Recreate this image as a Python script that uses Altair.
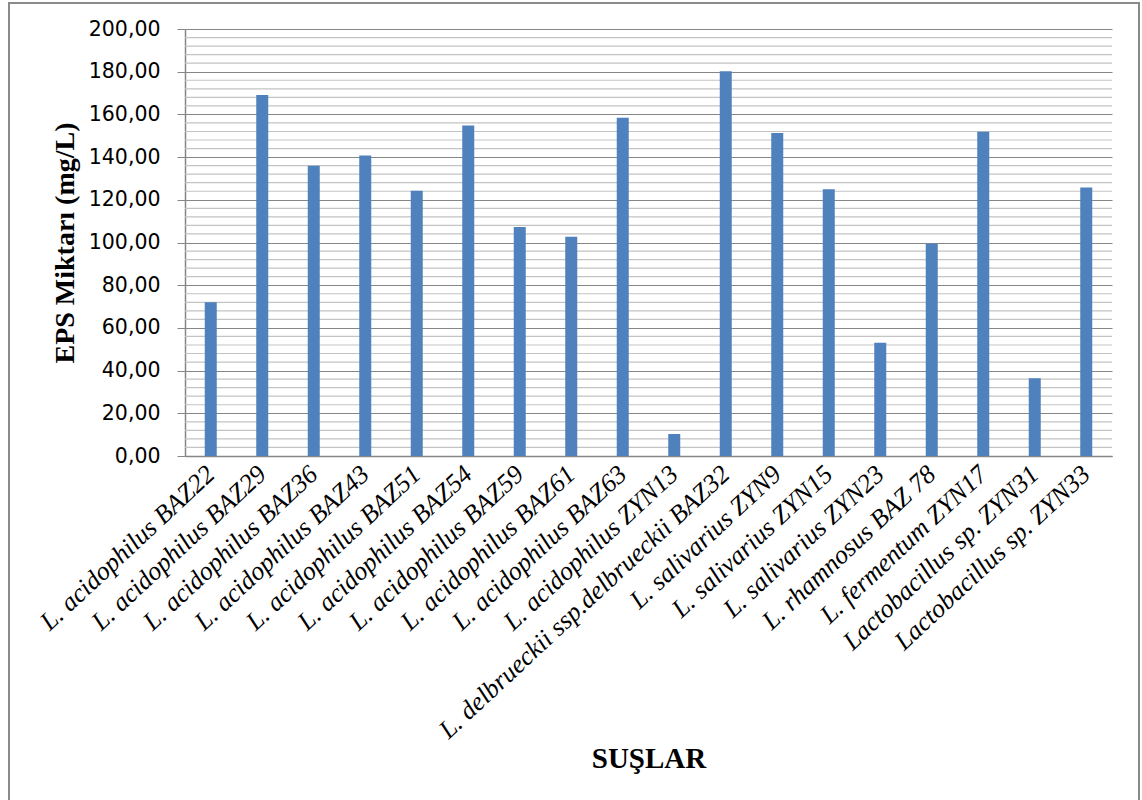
import altair as alt
import pandas as pd

# Strains (x categories) and measured EPS amounts (mg/L)
strains = [
    "L. acidophilus BAZ22",
    "L. acidophilus BAZ29",
    "L. acidophilus BAZ36",
    "L. acidophilus BAZ43",
    "L. acidophilus BAZ51",
    "L. acidophilus BAZ54",
    "L. acidophilus BAZ59",
    "L. acidophilus BAZ61",
    "L. acidophilus BAZ63",
    "L. acidophilus ZYN13",
    "L. delbrueckii ssp.delbrueckii BAZ32",
    "L. salivarius ZYN9",
    "L. salivarius ZYN15",
    "L. salivarius ZYN23",
    "L. rhamnosus BAZ 78",
    "L. fermentum ZYN17",
    "Lactobacillus sp. ZYN31",
    "Lactobacillus sp. ZYN33",
]
eps_values = [72.0, 169.1, 135.9, 140.8, 124.2, 154.8, 107.3, 102.7, 158.4,
              10.3, 180.2, 151.3, 125.0, 53.1, 99.4, 151.9, 36.4, 125.8]

# Axis tick values
major_ticks = [0, 20, 40, 60, 80, 100, 120, 140, 160, 180, 200]
minor_ticks = [v for v in range(4, 200, 4) if v % 20 != 0]

df = pd.DataFrame({"sus": strains, "eps": eps_values})
minor_df = pd.DataFrame({"v": minor_ticks})

W, H = 927, 427
GRID_DARK = "#868686"
GRID_LIGHT = "#c3c3c3"
BAR = "#4f81bd"

y_scale = alt.Scale(domain=[0, 200], nice=False, zero=True)

bars = alt.Chart(df).mark_bar(size=12, color=BAR).encode(
    x=alt.X(
        "sus:N",
        sort=strains,
        scale=alt.Scale(paddingInner=0, paddingOuter=0),
        axis=alt.Axis(
            title="SUŞLAR",
            labelAngle=-43,
            labelAlign="right",
            labelBaseline="middle",
            labelFont="Liberation Serif",
            labelFontStyle="italic",
            labelFontSize=26,
            labelColor="black",
            labelLimit=1000,
            labelOverlap=False,
            labelPadding=14,
            ticks=False,
            domainColor=GRID_DARK,
            domainWidth=1.5,
            titleFont="Liberation Serif",
            titleFontSize=29,
            titleFontWeight="bold",
            titleColor="black",
            titleX=W / 2,
            titleY=311,
            titleAlign="center",
            titleBaseline="alphabetic",
        ),
    ),
    y=alt.Y(
        "eps:Q",
        scale=y_scale,
        axis=alt.Axis(
            values=major_ticks,
            labelExpr="replace(format(datum.value, '.2f'), '.', ',')",
            grid=True,
            gridColor=GRID_DARK,
            gridWidth=1.2,
            tickSize=8,
            tickColor=GRID_DARK,
            domainColor=GRID_DARK,
            domainWidth=1.5,
            labelFont="DejaVu Sans",
            labelFontSize=20.5,
            labelColor="black",
            labelPadding=17,
            title="EPS Miktarı (mg/L)",
            titleFont="Liberation Serif",
            titleFontSize=28,
            titleFontWeight="bold",
            titleColor="black",
            titleAngle=-90,
            titleX=-112,
            titleY=H / 2,
            titleAlign="center",
            titleBaseline="alphabetic",
        ),
    ),
)

minor_grid = alt.Chart(minor_df).mark_rule(color=GRID_LIGHT, strokeWidth=1.2).encode(
    y=alt.Y("v:Q", scale=y_scale, axis=None)
)

# Outer frame around the whole figure
frame = alt.Chart(alt.Data(values=[{}])).mark_rect(
    fillOpacity=0, stroke="#8a8a8a", strokeWidth=2
).encode(
    x=alt.value(-176),
    x2=alt.value(954),
    y=alt.value(-26),
    y2=alt.value(790),
)

chart = alt.layer(minor_grid, bars, frame).resolve_axis(
    y="independent"
).properties(
    width=W,
    height=H,
    autosize=alt.AutoSizeParams(type="none"),
    padding={"left": 185, "top": 29, "right": 30, "bottom": 344},
    background="white",
).configure_view(stroke=None)

chart.save("out.html", embed_options={"renderer": "svg", "actions": False})
